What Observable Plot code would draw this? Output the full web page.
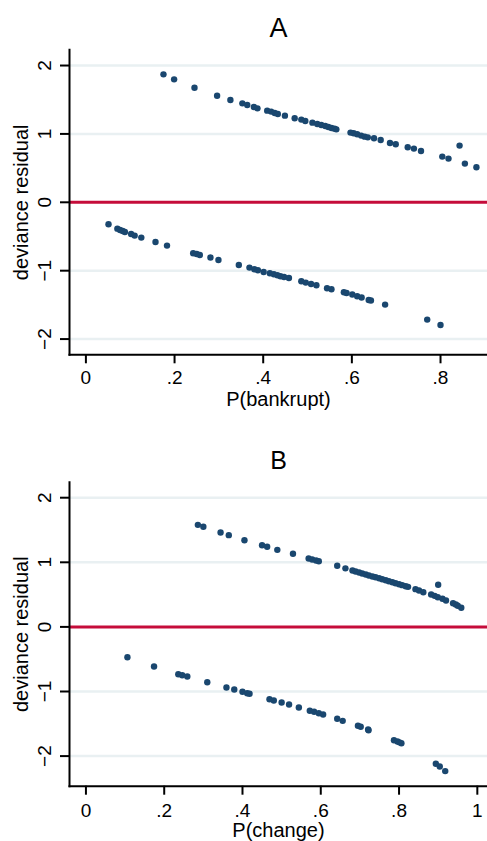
<!DOCTYPE html>
<html><head><meta charset="utf-8">
<script src="https://cdn.jsdelivr.net/npm/d3@7"></script>
<script src="https://cdn.jsdelivr.net/npm/@observablehq/plot@0.6"></script>
<style>
html,body{margin:0;padding:0;background:#fff;overflow:hidden;}
#chart svg{display:block;}
</style></head><body><div id="chart"></div>
<script>
const panelTitles = ["A", "B"];
const xLabels = ["P(bankrupt)", "P(change)"];
const yLabel = "deviance residual";

// Panel A: P(bankrupt) vs deviance residual
const aX = [0.175,0.199,0.245,0.296,0.326,0.353,0.364,0.379,0.387,0.409,0.418,0.426,0.433,0.449,0.471,0.486,0.495,0.511,0.522,0.531,0.540,0.547,0.554,0.561,0.565,0.597,0.604,0.612,0.621,0.629,0.636,0.650,0.665,0.686,0.699,0.726,0.740,0.756,0.804,0.818,0.843,0.855,0.881,
  0.051,0.071,0.077,0.083,0.088,0.102,0.110,0.125,0.157,0.183,0.242,0.250,0.257,0.281,0.299,0.345,0.369,0.380,0.388,0.401,0.415,0.424,0.432,0.439,0.447,0.458,0.486,0.496,0.508,0.520,0.544,0.554,0.582,0.588,0.601,0.612,0.622,0.638,0.643,0.675,0.770,0.800];
const aY = [1.871,1.798,1.676,1.559,1.496,1.447,1.423,1.394,1.374,1.340,1.326,1.306,1.291,1.267,1.228,1.209,1.189,1.165,1.145,1.130,1.116,1.101,1.087,1.077,1.067,1.019,1.009,0.994,0.975,0.960,0.950,0.936,0.911,0.867,0.848,0.804,0.785,0.750,0.668,0.639,0.829,0.566,0.512,
  -0.322,-0.385,-0.405,-0.420,-0.434,-0.463,-0.487,-0.516,-0.580,-0.633,-0.746,-0.756,-0.770,-0.808,-0.844,-0.917,-0.955,-0.980,-0.994,-1.019,-1.038,-1.053,-1.067,-1.082,-1.092,-1.107,-1.155,-1.174,-1.194,-1.213,-1.257,-1.272,-1.316,-1.326,-1.349,-1.374,-1.393,-1.428,-1.436,-1.496,-1.715,-1.794];

// Panel B: P(change) vs deviance residual
const bX = [0.286,0.300,0.344,0.365,0.405,0.450,0.463,0.489,0.529,0.569,0.578,0.588,0.595,0.642,0.663,0.681,0.689,0.698,0.706,0.715,0.723,0.732,0.740,0.749,0.757,0.766,0.774,0.783,0.791,0.800,0.808,0.817,0.823,0.842,0.851,0.862,0.882,0.891,0.899,0.900,0.911,0.920,0.938,0.945,0.950,0.959,
  0.106,0.174,0.236,0.246,0.259,0.310,0.359,0.379,0.400,0.412,0.418,0.469,0.480,0.500,0.519,0.544,0.572,0.583,0.595,0.606,0.642,0.656,0.695,0.702,0.721,0.722,0.787,0.796,0.801,0.806,0.894,0.904,0.918];
const bY = [1.580,1.550,1.461,1.420,1.342,1.265,1.240,1.193,1.132,1.059,1.043,1.028,1.017,0.946,0.906,0.873,0.858,0.842,0.827,0.811,0.796,0.780,0.769,0.754,0.738,0.723,0.707,0.692,0.676,0.661,0.646,0.630,0.620,0.584,0.563,0.537,0.502,0.481,0.460,0.652,0.435,0.409,0.367,0.347,0.327,0.296,
  -0.469,-0.613,-0.732,-0.748,-0.768,-0.856,-0.938,-0.969,-1.005,-1.026,-1.036,-1.119,-1.139,-1.170,-1.201,-1.248,-1.299,-1.314,-1.336,-1.356,-1.423,-1.454,-1.531,-1.546,-1.588,-1.599,-1.754,-1.774,-1.787,-1.800,-2.119,-2.161,-2.232];

const xTicksA = [0, 0.2, 0.4, 0.6, 0.8];
const xTickLabelsA = ["0", ".2", ".4", ".6", ".8"];
const xTicksB = [0, 0.2, 0.4, 0.6, 0.8, 1];
const xTickLabelsB = ["0", ".2", ".4", ".6", ".8", "1"];
const yTicks = [-2, -1, 0, 1, 2];
const yTickLabels = ["\u22122", "\u22121", "0", "1", "2"];
const gridValues = [-2, -1, 1, 2];
const refLine = [0];

const FONT = "'Liberation Sans', Arial, Helvetica, sans-serif";

function panel(o) {
  const data = o.xs.map((x, i) => ({x, y: o.ys[i]}));
  return Plot.plot({
    width: 487, height: o.height,
    marginTop: o.marginTop, marginBottom: o.marginBottom, marginLeft: 69, marginRight: 0,
    style: {fontFamily: FONT, background: "#fff", overflow: "visible", color: "#000"},
    x: {domain: o.xDomain},
    y: {domain: o.yDomain},
    marks: [
      Plot.gridY(gridValues, {stroke: "#e9f0f2", strokeOpacity: 1, strokeWidth: 2.5}),
      Plot.ruleY(refLine, {stroke: "#c50c3a", strokeWidth: 3}),
      Plot.dot(data, {x: "x", y: "y", r: 3.2, fill: "#1a476f", stroke: "none"}),
      Plot.frame({anchor: "left", stroke: "#000", strokeWidth: 2}),
      Plot.frame({anchor: "bottom", stroke: "#000", strokeWidth: 2}),
      Plot.axisY({ticks: yTicks, tickFormat: d => yTickLabels[yTicks.indexOf(d)], tickSize: 9, tickPadding: 10,
        tickRotate: -90, fontSize: 19, strokeWidth: 2, label: null, fill: "#000", stroke: "#000"}),
      Plot.axisX({ticks: o.xTicks, tickFormat: d => o.xTickLabels[o.xTicks.indexOf(d)], tickSize: 9,
        tickPadding: o.xTickPad, fontSize: 19, strokeWidth: 2, label: null, fill: "#000", stroke: "#000"}),
      Plot.text([o.title], {text: d => d, frameAnchor: "top", lineAnchor: "bottom", dy: -o.titleDy, fontSize: o.titleSize, fill: "#000"}),
      Plot.text([o.xLabel], {text: d => d, frameAnchor: "bottom", lineAnchor: "top", dy: o.xLabelDy, fontSize: 20, fill: "#000"}),
      Plot.text([yLabel], {text: d => d, frameAnchor: "left", textAnchor: "middle", rotate: -90, lineAnchor: "bottom", dx: -42, fontSize: 20, fill: "#000"})
    ]
  });
}

const chart = document.getElementById("chart");
chart.appendChild(panel({
  xs: aX, ys: aY, title: panelTitles[0], xLabel: xLabels[0],
  xTicks: xTicksA, xTickLabels: xTickLabelsA,
  xDomain: [-0.037, 0.906], yDomain: [-2.23, 2.23],
  height: 420, marginTop: 49.3, marginBottom: 65.7,
  titleSize: 27, titleDy: 12.6, xTickPad: 6.7, xLabelDy: 37.4
}));
chart.appendChild(panel({
  xs: bX, ys: bY, title: panelTitles[1], xLabel: xLabels[1],
  xTicks: xTicksB, xTickLabels: xTickLabelsB,
  xDomain: [-0.042, 1.026], yDomain: [-2.466, 2.24],
  height: 421, marginTop: 61.7, marginBottom: 55.3,
  titleSize: 25, titleDy: 13.4, xTickPad: 8, xLabelDy: 37
}));
</script></body></html>
